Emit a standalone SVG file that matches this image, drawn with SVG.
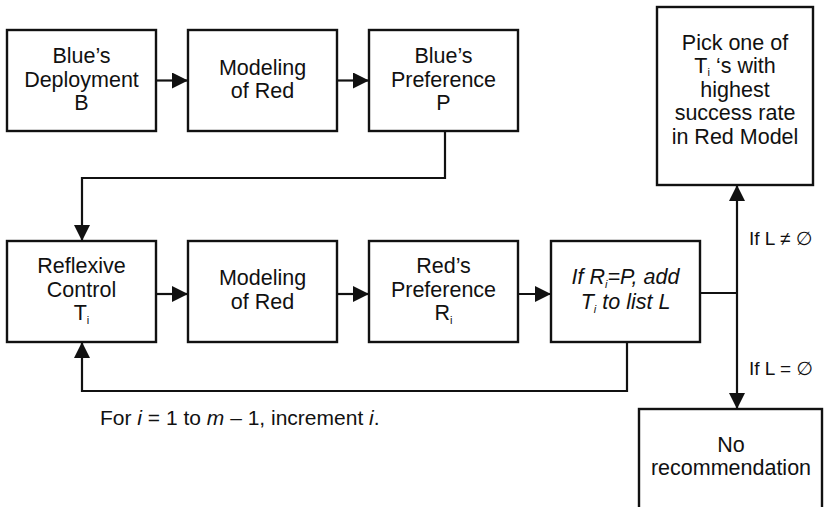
<svg xmlns="http://www.w3.org/2000/svg" width="826" height="507" viewBox="0 0 826 507">
  <style>
    .box { fill: #ffffff; stroke: #111111; stroke-width: 2.4; }
    .lbl { font-family: "Liberation Sans", Arial, Helvetica, sans-serif; font-size: 21.5px; fill: #111111; text-anchor: middle; }
    .it { font-style: italic; }
    .sub { font-size: 11px; fill: #111111; }
    .note { font-family: "Liberation Sans", Arial, Helvetica, sans-serif; font-size: 21px; fill: #111111; }
    .cond { font-family: "Liberation Sans", "DejaVu Sans", Arial, sans-serif; font-size: 19px; fill: #111111; }
    .wire { fill: none; stroke: #111111; stroke-width: 2.2; }
  </style>
  <defs>
    <marker id="arrow" viewBox="0 0 16 16" refX="16" refY="8" markerWidth="16" markerHeight="16" markerUnits="userSpaceOnUse" orient="auto">
      <path d="M0,0 L16,8 L0,16 Z" fill="#111111"/>
    </marker>
  </defs>

  <rect width="826" height="507" fill="#ffffff"/>

  <!-- top row -->
  <g id="blue-deployment">
    <rect class="box" x="7" y="30" width="149" height="101"/>
    <text class="lbl" x="81.5" y="63">Blue’s</text>
    <text class="lbl" x="81.5" y="87">Deployment</text>
    <text class="lbl" x="81.5" y="110">B</text>
  </g>
  <g id="modeling-red-1">
    <rect class="box" x="188" y="30" width="149" height="101"/>
    <text class="lbl" x="262.5" y="75">Modeling</text>
    <text class="lbl" x="262.5" y="98">of Red</text>
  </g>
  <g id="blue-preference">
    <rect class="box" x="369" y="30" width="149" height="101"/>
    <text class="lbl" x="443.5" y="63">Blue’s</text>
    <text class="lbl" x="443.5" y="87">Preference</text>
    <text class="lbl" x="443.5" y="110">P</text>
  </g>

  <!-- bottom row -->
  <g id="reflexive-control">
    <rect class="box" x="7" y="241" width="149" height="101"/>
    <text class="lbl" x="81.5" y="273">Reflexive</text>
    <text class="lbl" x="81.5" y="297">Control</text>
    <text class="lbl" x="81.5" y="320">T<tspan class="sub" dy="4">i</tspan></text>
  </g>
  <g id="modeling-red-2">
    <rect class="box" x="188" y="241" width="149" height="101"/>
    <text class="lbl" x="262.5" y="285">Modeling</text>
    <text class="lbl" x="262.5" y="309">of Red</text>
  </g>
  <g id="red-preference">
    <rect class="box" x="369" y="241" width="149" height="101"/>
    <text class="lbl" x="443.5" y="273">Red’s</text>
    <text class="lbl" x="443.5" y="297">Preference</text>
    <text class="lbl" x="443.5" y="320">R<tspan class="sub" dy="4">i</tspan></text>
  </g>
  <g id="add-to-list">
    <rect class="box" x="551" y="241" width="149" height="101"/>
    <text class="lbl it" x="625.5" y="284">If R<tspan class="sub" dy="4">i</tspan><tspan dy="-4">=P, add</tspan></text>
    <text class="lbl it" x="625.5" y="309">T<tspan class="sub" dy="4">i</tspan><tspan dy="-4"> to list L</tspan></text>
  </g>

  <!-- outcomes -->
  <g id="pick-best">
    <rect class="box" x="657" y="7" width="156" height="178"/>
    <text class="lbl" x="735" y="50">Pick one of</text>
    <text class="lbl" x="735" y="73">T<tspan class="sub" dy="3">i</tspan><tspan dy="-3"> ‘s with</tspan></text>
    <text class="lbl" x="735" y="97">highest</text>
    <text class="lbl" x="735" y="120">success rate</text>
    <text class="lbl" x="735" y="144">in Red Model</text>
  </g>
  <g id="no-recommendation">
    <rect class="box" x="639" y="409" width="183" height="110"/>
    <text class="lbl" x="731" y="452">No</text>
    <text class="lbl" x="731" y="475">recommendation</text>
  </g>

  <!-- connectors -->
  <g id="connectors">
    <line class="wire" x1="156" y1="80.5" x2="188" y2="80.5" marker-end="url(#arrow)"/>
    <line class="wire" x1="337" y1="80.5" x2="369" y2="80.5" marker-end="url(#arrow)"/>
    <polyline class="wire" points="445,131 445,178 82,178 82,241" marker-end="url(#arrow)"/>
    <line class="wire" x1="156" y1="294" x2="188" y2="294" marker-end="url(#arrow)"/>
    <line class="wire" x1="337" y1="294" x2="369" y2="294" marker-end="url(#arrow)"/>
    <line class="wire" x1="518" y1="294" x2="551" y2="294" marker-end="url(#arrow)"/>
    <polyline class="wire" points="627,342 627,391 82,391 82,342" marker-end="url(#arrow)"/>
    <line class="wire" x1="700" y1="293" x2="737" y2="293"/>
    <line class="wire" x1="737" y1="293" x2="737" y2="185" marker-end="url(#arrow)"/>
    <line class="wire" x1="737" y1="293" x2="737" y2="409" marker-end="url(#arrow)"/>
  </g>

  <!-- branch conditions and loop note -->
  <text class="cond" x="749" y="245">If L ≠ ∅</text>
  <text class="cond" x="749" y="375">If L = ∅</text>
  <text class="note" x="100" y="425">For <tspan font-style="italic">i</tspan> = 1 to <tspan font-style="italic">m</tspan> – 1, increment <tspan font-style="italic">i</tspan>.</text>
</svg>
